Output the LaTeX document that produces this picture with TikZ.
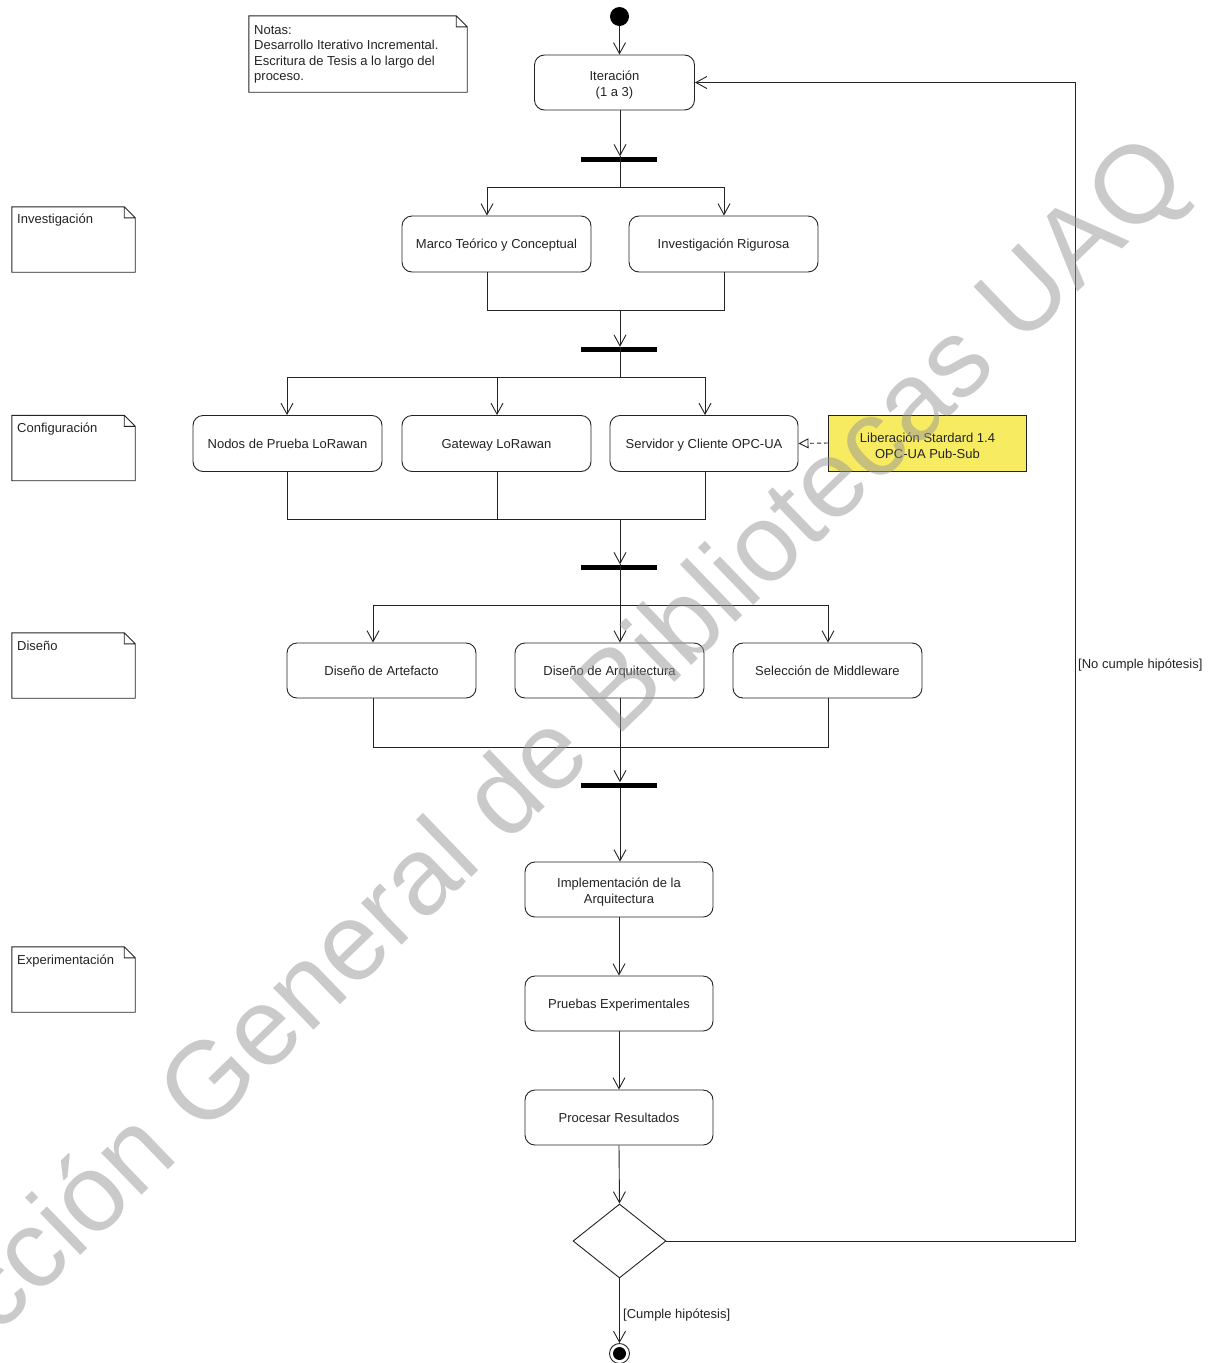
\documentclass[tikz,border=0pt]{standalone}
\usepackage{fontspec}
\setmainfont{Liberation Sans}
\usetikzlibrary{arrows.meta,shapes.geometric}
\definecolor{ink}{RGB}{35,35,35}
\definecolor{noteyellow}{RGB}{247,235,98}
\definecolor{wmgray}{RGB}{150,150,150}
% invisible strut that lowers multi-line box texts a little
\newcommand{\firstlinestrut}{\rule{0pt}{15pt}}
\begin{document}
\begin{tikzpicture}[x=1pt,y=-1pt,
  every node/.style={font=\fontsize{13}{15.5}\selectfont, text=ink},
  edge/.style={draw=ink, line width=0.9pt},
  arr/.style={edge, -{Straight Barb[length=11pt,width=12pt]}},
  act/.style={draw=ink, line width=0.9pt, rounded corners=10pt, minimum width=189pt,
              minimum height=56pt, inner sep=0pt, align=center},
  oneline/.style={text height=9.4pt, text depth=0.3pt},
  bar/.style={fill=black, minimum width=76pt, minimum height=5pt, inner sep=0pt},
  notebox/.style={minimum width=123pt, minimum height=65pt, inner sep=0pt},
  notelabel/.style={anchor=base west, inner sep=0pt},
  guard/.style={anchor=west, inner sep=0pt},
]
\useasboundingbox (0,0) rectangle (1223,1363);
\clip (0,0) rectangle (1223,1363);

% ---- annotation notes -------------------------------------------------
\node[minimum width=218pt, minimum height=76pt, inner sep=0pt] (notas) at (358,54) {};
\node[anchor=north west, inner sep=0pt, align=left] (notastxt) at (254,25)
  {Notas:\\Desarrollo Iterativo Incremental.\\Escritura de Tesis a lo largo del\\proceso.};

\node[notebox] (nInv)  at (73.5,239.5) {};
\node[notebox] (nConf) at (73.5,448)   {};
\node[notebox] (nDis)  at (73.5,665.5) {};
\node[notebox] (nExp)  at (73.5,979.5) {};
\node[notelabel] (tInv)  at (17,223.5) {Investigación};
\node[notelabel] (tConf) at (17,432.5) {Configuración};
\node[notelabel] (tDis)  at (17,650.5) {Diseño};
\node[notelabel] (tExp)  at (17,964)   {Experimentación};

\foreach \n in {notas,nInv,nConf,nDis,nExp}
  \draw[edge] (\n.north west) -- ([xshift=-11pt]\n.north east)
     -- ([yshift=-11pt]\n.north east) -- (\n.south east) -- (\n.south west) -- cycle
     ([xshift=-11pt]\n.north east) |- ([yshift=-11pt]\n.north east);

% ---- activities -------------------------------------------------------
\node[circle, fill=black, minimum size=19pt, inner sep=0pt] (start) at (619.5,16.5) {};
\node[act, minimum width=160pt, minimum height=55pt] (iter) at (614.5,82.5)
  {\firstlinestrut Iteración\\(1 a 3)};

\node[bar] (bar1) at (619,159) {};
\node[act, oneline] (marco) at (496.5,244) {Marco Teórico y Conceptual};
\node[act, oneline] (rig)   at (723.5,244) {Investigación Rigurosa};

\node[bar] (bar2) at (619,349.5) {};
\node[act, oneline] (nodos) at (287.5,443.5) {Nodos de Prueba LoRawan};
\node[act, oneline] (gate)  at (496.5,443.5) {Gateway LoRawan};
\node[act, oneline, minimum width=188pt] (serv) at (704,443.5) {Servidor y Cliente OPC-UA};
\node[draw=ink, line width=0.9pt, fill=noteyellow, minimum width=198pt, minimum height=56pt,
      inner sep=0pt, align=center] (lib) at (927.5,443)
  {\firstlinestrut Liberación Stardard 1.4\\OPC-UA Pub-Sub};

\node[bar] (bar3) at (619,567) {};
\node[act, oneline, minimum height=55pt] (art) at (381.5,670.5) {Diseño de Artefacto};
\node[act, oneline, minimum height=55pt] (arq) at (609.5,670.5) {Diseño de Arquitectura};
\node[act, oneline, minimum height=55pt] (sel) at (827.5,670.5) {Selección de Middleware};

\node[bar] (bar4) at (619,785) {};
\node[act, minimum width=188pt, minimum height=55pt] (impl) at (619,889.5)
  {\firstlinestrut Implementación de la\\Arquitectura};
\node[act, oneline, minimum width=188pt, minimum height=55pt] (prue) at (619,1003.5) {Pruebas Experimentales};
\node[act, oneline, minimum width=188pt, minimum height=55pt] (proc) at (619,1117.5) {Procesar Resultados};

\node[diamond, draw=ink, line width=0.9pt, minimum width=93pt, minimum height=74pt,
      inner sep=0pt] (dec) at (619.5,1241) {};
\node[circle, draw=ink, line width=0.9pt, minimum size=20pt, inner sep=0pt] (fin) at (619.5,1353.5) {};
\fill[black] (fin.center) circle (6.5pt);

% ---- fork / join points -------------------------------------------------
\coordinate (f1)  at (620,187);  \coordinate (f1a) at (487,187); \coordinate (f1b) at (724,187);
\coordinate (j1)  at (620,310);  \coordinate (j1a) at (487,310); \coordinate (j1b) at (724,310);
\coordinate (f2)  at (620,377);  \coordinate (f2a) at (287,377); \coordinate (f2b) at (497,377); \coordinate (f2c) at (705,377);
\coordinate (j2)  at (620,519);  \coordinate (j2a) at (287,519); \coordinate (j2b) at (497,519); \coordinate (j2c) at (705,519);
\coordinate (f3)  at (620,605);  \coordinate (f3a) at (373,605); \coordinate (f3b) at (620,605); \coordinate (f3c) at (828,605);
\coordinate (j3)  at (620,747);  \coordinate (j3a) at (373,747); \coordinate (j3b) at (620,747); \coordinate (j3c) at (828,747);
\coordinate (loop) at (1075,1241);

% ---- connectors -----------------------------------------------------------
\draw[arr] (start.south) -- (start.south |- iter.north);
\draw[arr] (iter.south -| f1) -- (f1 |- bar1.north);

\draw[edge] (f1 |- bar1.north) -- (f1);
\draw[edge] (f1a) -- (f1b);
\draw[arr] (f1a) -- (f1a |- marco.north);
\draw[arr] (f1b) -- (f1b |- rig.north);

\draw[edge] (j1a |- marco.south) -- (j1a) -- (j1b) -- (j1b |- rig.south);
\draw[arr] (j1) -- (j1 |- bar2.north);
\draw[edge] (j1 |- bar2.north) -- (f2);
\draw[edge] (f2a) -- (f2c);
\draw[arr] (f2a) -- (f2a |- nodos.north);
\draw[arr] (f2b) -- (f2b |- gate.north);
\draw[arr] (f2c) -- (f2c |- serv.north);
\draw[edge, dash pattern=on 4pt off 3pt, -{Triangle[open, length=10pt, width=10pt]}] (lib.west) -- (serv.east);

\draw[edge] (j2a |- nodos.south) -- (j2a) -- (j2c) -- (j2c |- serv.south);
\draw[edge] (j2b |- gate.south) -- (j2b);
\draw[arr] (j2) -- (j2 |- bar3.north);
\draw[edge] (j2 |- bar3.north) -- (f3);
\draw[edge] (f3a) -- (f3c);
\draw[arr] (f3a) -- (f3a |- art.north);
\draw[arr] (f3b) -- (f3b |- arq.north);
\draw[arr] (f3c) -- (f3c |- sel.north);

\draw[edge] (j3a |- art.south) -- (j3a) -- (j3c) -- (j3c |- sel.south);
\draw[edge] (j3b |- arq.south) -- (j3b);
\draw[arr] (j3) -- (j3 |- bar4.north);
\draw[arr] (j3 |- bar4.south) -- (j3 |- impl.north);

\draw[arr] (impl.south) -- (prue.north);
\draw[arr] (prue.south) -- (proc.north);
\draw[arr] (proc.south) -- (dec.north);
\draw[arr] (dec.east) -- (loop) |- (iter.east);
\draw[arr] (dec.south) -- (fin.north);

\node[guard] (gNo) at (1078,665) {[No cumple hipótesis]};
\node[guard] (gSi) at (623,1315.5) {[Cumple hipótesis]};

% ---- library watermark ------------------------------------------------------
\node[rotate=44, anchor=base west, inner sep=0pt, text=wmgray, opacity=0.5,
      font=\fontsize{110}{110}\selectfont] (wm) at (-149,1477) {Dirección General de Bibliotecas UAQ};
\end{tikzpicture}
\end{document}
